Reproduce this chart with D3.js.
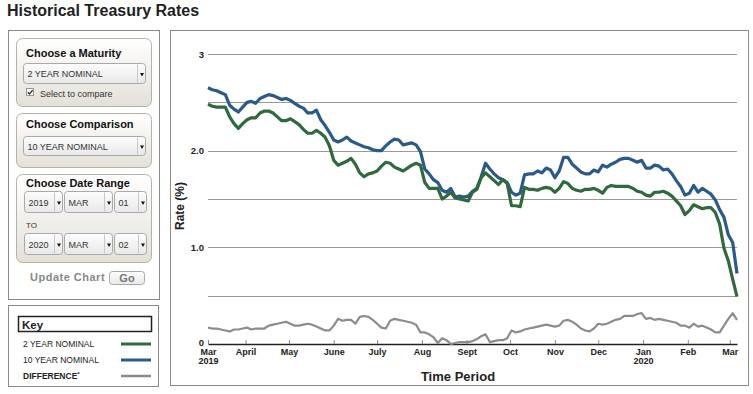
<!DOCTYPE html>
<html>
<head>
  <meta charset="utf-8" />
  <title>Historical Treasury Rates</title>
  <script src="https://d3js.org/d3.v7.min.js"></script>
  <style>
    body, html { margin: 0; background: #fff; }
    svg { display: block; font-family: Arial, "Liberation Sans", sans-serif; }
  </style>
</head>
<body>
<script>
// sample dates (every 3 days)
var dates = [
  "2019-03-06","2019-03-09","2019-03-12","2019-03-15","2019-03-18","2019-03-21","2019-03-24","2019-03-27","2019-03-30",
  "2019-04-02","2019-04-05","2019-04-08","2019-04-11","2019-04-14","2019-04-17","2019-04-20","2019-04-23","2019-04-26","2019-04-29",
  "2019-05-02","2019-05-05","2019-05-08","2019-05-11","2019-05-14","2019-05-17","2019-05-20","2019-05-23","2019-05-26","2019-05-29",
  "2019-06-01","2019-06-04","2019-06-07","2019-06-10","2019-06-13","2019-06-16","2019-06-19","2019-06-22","2019-06-25","2019-06-28",
  "2019-07-01","2019-07-04","2019-07-07","2019-07-10","2019-07-13","2019-07-16","2019-07-19","2019-07-22","2019-07-25","2019-07-28","2019-07-31",
  "2019-08-03","2019-08-06","2019-08-09","2019-08-12","2019-08-15","2019-08-18","2019-08-21","2019-08-24","2019-08-27","2019-08-30",
  "2019-09-02","2019-09-05","2019-09-08","2019-09-11","2019-09-14","2019-09-17","2019-09-20","2019-09-23","2019-09-26","2019-09-29",
  "2019-10-02","2019-10-05","2019-10-08","2019-10-11","2019-10-14","2019-10-17","2019-10-20","2019-10-23","2019-10-26","2019-10-29",
  "2019-11-01","2019-11-04","2019-11-07","2019-11-10","2019-11-13","2019-11-16","2019-11-19","2019-11-22","2019-11-25","2019-11-28",
  "2019-12-01","2019-12-04","2019-12-07","2019-12-10","2019-12-13","2019-12-16","2019-12-19","2019-12-22","2019-12-25","2019-12-28","2019-12-31",
  "2020-01-03","2020-01-06","2020-01-09","2020-01-12","2020-01-15","2020-01-18","2020-01-21","2020-01-24","2020-01-27","2020-01-30",
  "2020-02-02","2020-02-05","2020-02-08","2020-02-11","2020-02-14","2020-02-17","2020-02-20","2020-02-23","2020-02-26","2020-02-29",
  "2020-03-03","2020-03-06"
];

var twoYear = [
  2.48,2.46,2.45,2.45,2.45,2.35,2.28,2.23,2.28,2.32,2.34,2.34,2.39,2.41,2.41,2.39,2.35,2.31,2.31,2.33,
  2.30,2.27,2.22,2.18,2.18,2.21,2.18,2.14,2.05,1.90,1.85,1.87,1.89,1.92,1.86,1.77,1.73,1.76,1.77,1.79,
  1.84,1.88,1.87,1.83,1.81,1.79,1.82,1.85,1.87,1.85,1.67,1.61,1.61,1.61,1.50,1.53,1.57,1.51,1.50,1.49,
  1.48,1.57,1.60,1.72,1.77,1.73,1.69,1.65,1.70,1.66,1.43,1.43,1.42,1.62,1.60,1.60,1.59,1.61,1.62,1.61,
  1.57,1.61,1.68,1.66,1.61,1.59,1.58,1.60,1.60,1.61,1.59,1.56,1.62,1.64,1.63,1.63,1.63,1.63,1.61,1.58,
  1.57,1.54,1.53,1.57,1.57,1.58,1.56,1.53,1.48,1.43,1.34,1.38,1.44,1.42,1.40,1.41,1.41,1.36,1.24,0.99,
  0.86,0.67,0.49
];

var tenYear = [
  2.65,2.63,2.62,2.60,2.58,2.47,2.43,2.40,2.45,2.50,2.51,2.49,2.54,2.56,2.58,2.57,2.55,2.53,2.54,2.52,
  2.49,2.46,2.44,2.39,2.39,2.42,2.32,2.26,2.19,2.11,2.09,2.11,2.14,2.10,2.08,2.06,2.04,2.03,2.01,2.00,
  2.00,2.05,2.09,2.12,2.11,2.06,2.07,2.08,2.06,1.99,1.81,1.76,1.70,1.67,1.59,1.57,1.61,1.52,1.53,1.52,
  1.53,1.58,1.61,1.73,1.87,1.81,1.76,1.72,1.70,1.67,1.57,1.54,1.56,1.75,1.76,1.76,1.79,1.77,1.82,1.80,
  1.72,1.79,1.93,1.93,1.86,1.82,1.78,1.76,1.76,1.80,1.78,1.85,1.83,1.86,1.88,1.91,1.92,1.92,1.90,1.88,
  1.90,1.82,1.82,1.85,1.84,1.80,1.81,1.76,1.69,1.63,1.54,1.56,1.64,1.57,1.61,1.58,1.55,1.49,1.39,1.31,
  1.13,1.05,0.73
];

var difference = [
  0.17,0.16,0.16,0.15,0.14,0.13,0.15,0.15,0.16,0.17,0.15,0.16,0.16,0.16,0.19,0.20,0.21,0.22,0.23,0.21,
  0.19,0.19,0.20,0.21,0.20,0.18,0.16,0.14,0.14,0.19,0.26,0.24,0.25,0.25,0.21,0.28,0.29,0.28,0.25,0.21,
  0.17,0.16,0.24,0.26,0.25,0.24,0.23,0.22,0.20,0.12,0.12,0.10,0.07,0.01,0.06,0.04,0.00,0.01,0.02,0.02,
  0.02,0.03,0.05,0.08,0.10,0.02,0.03,0.04,0.04,0.06,0.14,0.12,0.13,0.15,0.16,0.17,0.18,0.19,0.20,0.19,
  0.18,0.19,0.24,0.25,0.23,0.20,0.16,0.14,0.13,0.16,0.21,0.20,0.21,0.23,0.25,0.26,0.29,0.29,0.29,0.31,
  0.32,0.26,0.27,0.25,0.26,0.25,0.24,0.23,0.22,0.19,0.19,0.17,0.21,0.18,0.19,0.17,0.15,0.12,0.12,0.19,
  0.26,0.32,0.25
];

var xTickDates = ["2019-03-06","2019-04-01","2019-05-01","2019-06-01","2019-07-01","2019-08-01","2019-09-01",
  "2019-10-01","2019-11-01","2019-12-01","2020-01-01","2020-02-01","2020-03-01"];
var xTickLabels = ["Mar","April","May","June","July","Aug","Sept","Oct","Nov","Dec","Jan","Feb","Mar"];
var xTickYears  = ["2019","","","","","","","","","","2020","",""];

var yGridValues = [0.5, 1, 1.5, 2, 2.5, 3];
var yLabelValues = [0, 1, 2, 3];
var yLabelTexts = ["0", "1.0", "2.0", "3"];

var keyLabels = ["2 YEAR NOMINAL", "10 YEAR NOMINAL", "DIFFERENCE"];
var keyColors = ["#2f6a3d", "#2a5a8c", "#8c8c8c"];

var parse = d3.timeParse("%Y-%m-%d");

var svg = d3.select("body").append("svg").attr("width", 753).attr("height", 394);
var defs = svg.append("defs");

function vGrad(id, top, bottom) {
  var g = defs.append("linearGradient").attr("id", id)
    .attr("x1", 0).attr("y1", 0).attr("x2", 0).attr("y2", 1);
  g.append("stop").attr("offset", "0%").attr("stop-color", top);
  g.append("stop").attr("offset", "100%").attr("stop-color", bottom);
}
vGrad("panelFill", "#ffffff", "#e3e0d8");
vGrad("selectFill", "#fdfdfd", "#e8e8e8");

// title
svg.append("text").attr("x", 7).attr("y", 16)
  .attr("font-size", 16).attr("font-weight", "bold").attr("fill", "#222")
  .text("Historical Treasury Rates");

// outer boxes
function box(x, y, w, h) {
  svg.append("rect").attr("x", x).attr("y", y).attr("width", w).attr("height", h)
    .attr("fill", "#fff").attr("stroke", "#8a8a8a");
}
box(8.5, 30.5, 151, 269);
box(8.5, 305.5, 150, 81);
box(170.5, 30.5, 578, 355);

/* ---------- control panel ---------- */
function panel(x, y, w, h, title, ty) {
  svg.append("rect").attr("x", x).attr("y", y).attr("width", w).attr("height", h)
    .attr("rx", 6).attr("fill", "url(#panelFill)").attr("stroke", "#b4b1a9");
  svg.append("text").attr("x", x + 9.5).attr("y", ty)
    .attr("font-size", 11).attr("font-weight", "bold").attr("fill", "#111").text(title);
}

function dropdown(x, y, w, h, label) {
  svg.append("rect").attr("x", x).attr("y", y).attr("width", w).attr("height", h)
    .attr("rx", 3).attr("fill", "url(#selectFill)").attr("stroke", "#a9a9a9");
  svg.append("line").attr("x1", x + w - 8).attr("x2", x + w - 8)
    .attr("y1", y + 1).attr("y2", y + h - 1).attr("stroke", "#c8c8c8");
  var cx = x + w - 3.5, cy = y + h / 2 + 1;
  svg.append("path").attr("d", "M" + (cx - 2) + "," + (cy - 1.5) + "h4l-2,3.5z").attr("fill", "#111");
  svg.append("text").attr("x", x + 4).attr("y", y + h / 2 + 3.5)
    .attr("font-size", 9).attr("fill", "#333").text(label);
}

panel(16.5, 38.5, 135, 68, "Choose a Maturity", 56.5);
dropdown(23.5, 63.5, 122, 20, "2 YEAR NOMINAL");
svg.append("rect").attr("x", 26.5).attr("y", 88.5).attr("width", 7).attr("height", 7)
  .attr("fill", "#fff").attr("stroke", "#999");
svg.append("path").attr("d", "M27.8,92.2l1.8,1.9l3-4").attr("fill", "none")
  .attr("stroke", "#222").attr("stroke-width", 1.3);
svg.append("text").attr("x", 40).attr("y", 96.5).attr("font-size", 9).attr("fill", "#333")
  .text("Select to compare");

panel(16.5, 113.5, 135, 54, "Choose Comparison", 128);
dropdown(23.5, 136.5, 122, 19, "10 YEAR NOMINAL");

panel(16.5, 174.5, 135, 88, "Choose Date Range", 186.5);
dropdown(24.5, 191.5, 38, 21, "2019");
dropdown(64.5, 191.5, 48, 21, "MAR");
dropdown(114.5, 191.5, 32, 21, "01");
svg.append("text").attr("x", 26).attr("y", 227.5).attr("font-size", 8).attr("fill", "#333").text("TO");
dropdown(24.5, 233.5, 38, 21, "2020");
dropdown(64.5, 233.5, 48, 21, "MAR");
dropdown(114.5, 233.5, 32, 21, "02");

svg.append("text").attr("x", 30).attr("y", 281).attr("font-size", 11).attr("font-weight", "bold")
  .attr("fill", "#888").attr("letter-spacing", 0.5).text("Update Chart");
svg.append("rect").attr("x", 109.5).attr("y", 271.5).attr("width", 35).attr("height", 13)
  .attr("rx", 3).attr("fill", "url(#selectFill)").attr("stroke", "#a9a9a9");
svg.append("text").attr("x", 127).attr("y", 282).attr("text-anchor", "middle")
  .attr("font-size", 11).attr("font-weight", "bold").attr("fill", "#777").text("Go");

/* ---------- key ---------- */
svg.append("rect").attr("x", 18.5).attr("y", 316.5).attr("width", 133).attr("height", 15)
  .attr("fill", "#fff").attr("stroke", "#222").attr("stroke-width", 1.5);
svg.append("text").attr("x", 22).attr("y", 328.5).attr("font-size", 11.5).attr("font-weight", "bold")
  .attr("fill", "#222").text("Key");

var keyRows = svg.append("g").selectAll("g").data(keyLabels).enter().append("g")
  .attr("transform", function (d, i) { return "translate(0," + (347 + i * 16) + ")"; });
keyRows.append("text").attr("x", 23).attr("y", 0).attr("font-size", 8.5)
  .attr("font-weight", function (d, i) { return i === 2 ? "bold" : "normal"; })
  .attr("fill", "#222")
  .text(function (d) { return d; })
  .filter(function (d, i) { return i === 2; })
  .append("tspan").attr("font-size", 6).attr("dy", -3).text("*");
keyRows.append("line").attr("x1", 121).attr("x2", 151).attr("y1", -3).attr("y2", -3)
  .attr("stroke", function (d, i) { return keyColors[i]; })
  .attr("stroke-width", function (d, i) { return i === 2 ? 2.5 : 3; });

/* ---------- chart ---------- */
var x = d3.scaleTime().domain([parse("2019-03-06"), parse("2020-03-06")]).range([208, 737]);
var y = d3.scaleLinear().domain([0, 3]).range([344, 54]);

var plot = svg.append("g");

plot.selectAll(".grid").data(yGridValues).enter().append("line")
  .attr("class", "grid")
  .attr("x1", 208).attr("x2", 737)
  .attr("y1", function (d) { return Math.round(y(d)) + 0.5; })
  .attr("y2", function (d) { return Math.round(y(d)) + 0.5; })
  .attr("stroke", "#9a9a9a");

// y labels
plot.selectAll(".ylab").data(yLabelValues).enter().append("text")
  .attr("x", 204).attr("y", function (d) { return y(d) + (d === 0 ? 2 : 3.5); })
  .attr("text-anchor", "end").attr("font-size", 9.5).attr("font-weight", "bold").attr("fill", "#222")
  .text(function (d, i) { return yLabelTexts[i]; });

svg.append("text").attr("transform", "translate(184,206) rotate(-90)")
  .attr("text-anchor", "middle").attr("font-size", 12).attr("font-weight", "bold").attr("fill", "#222")
  .text("Rate (%)");

// x axis
var xAxis = d3.axisBottom(x)
  .tickValues(xTickDates.map(parse))
  .tickSizeInner(-4).tickSizeOuter(0).tickPadding(5)
  .tickFormat(function (d, i) { return xTickLabels[i]; });

var xg = plot.append("g").attr("transform", "translate(0,344)").call(xAxis);
xg.select(".domain").attr("stroke", "#222").attr("stroke-width", 1.5);
xg.selectAll(".tick line").attr("stroke", "#888");
xg.selectAll(".tick text").attr("font-size", 9).attr("font-weight", "bold").attr("fill", "#222")
  .attr("font-family", "Arial, 'Liberation Sans', sans-serif");
xg.selectAll(".tick text").filter(function (d, i) { return xTickYears[i] !== ""; })
  .append("tspan").attr("x", 0).attr("dy", "1.0em")
  .text(function (d) { return xTickYears[xTickDates.map(parse).map(Number).indexOf(+d)]; });

svg.append("text").attr("x", 458).attr("y", 381).attr("text-anchor", "middle")
  .attr("font-size", 13).attr("font-weight", "bold").attr("fill", "#222").text("Time Period");

// series
var line = d3.line()
  .x(function (d) { return x(d.date); })
  .y(function (d) { return y(d.value); });

function series(values) {
  return values.map(function (v, i) { return { date: parse(dates[i]), value: v }; });
}

plot.append("path").datum(series(difference)).attr("d", line)
  .attr("fill", "none").attr("stroke", keyColors[2]).attr("stroke-width", 2.2)
  .attr("stroke-linejoin", "round");
plot.append("path").datum(series(tenYear)).attr("d", line)
  .attr("fill", "none").attr("stroke", keyColors[1]).attr("stroke-width", 3.2)
  .attr("stroke-linejoin", "round");
plot.append("path").datum(series(twoYear)).attr("d", line)
  .attr("fill", "none").attr("stroke", keyColors[0]).attr("stroke-width", 3.2)
  .attr("stroke-linejoin", "round");
</script>
</body>
</html>
